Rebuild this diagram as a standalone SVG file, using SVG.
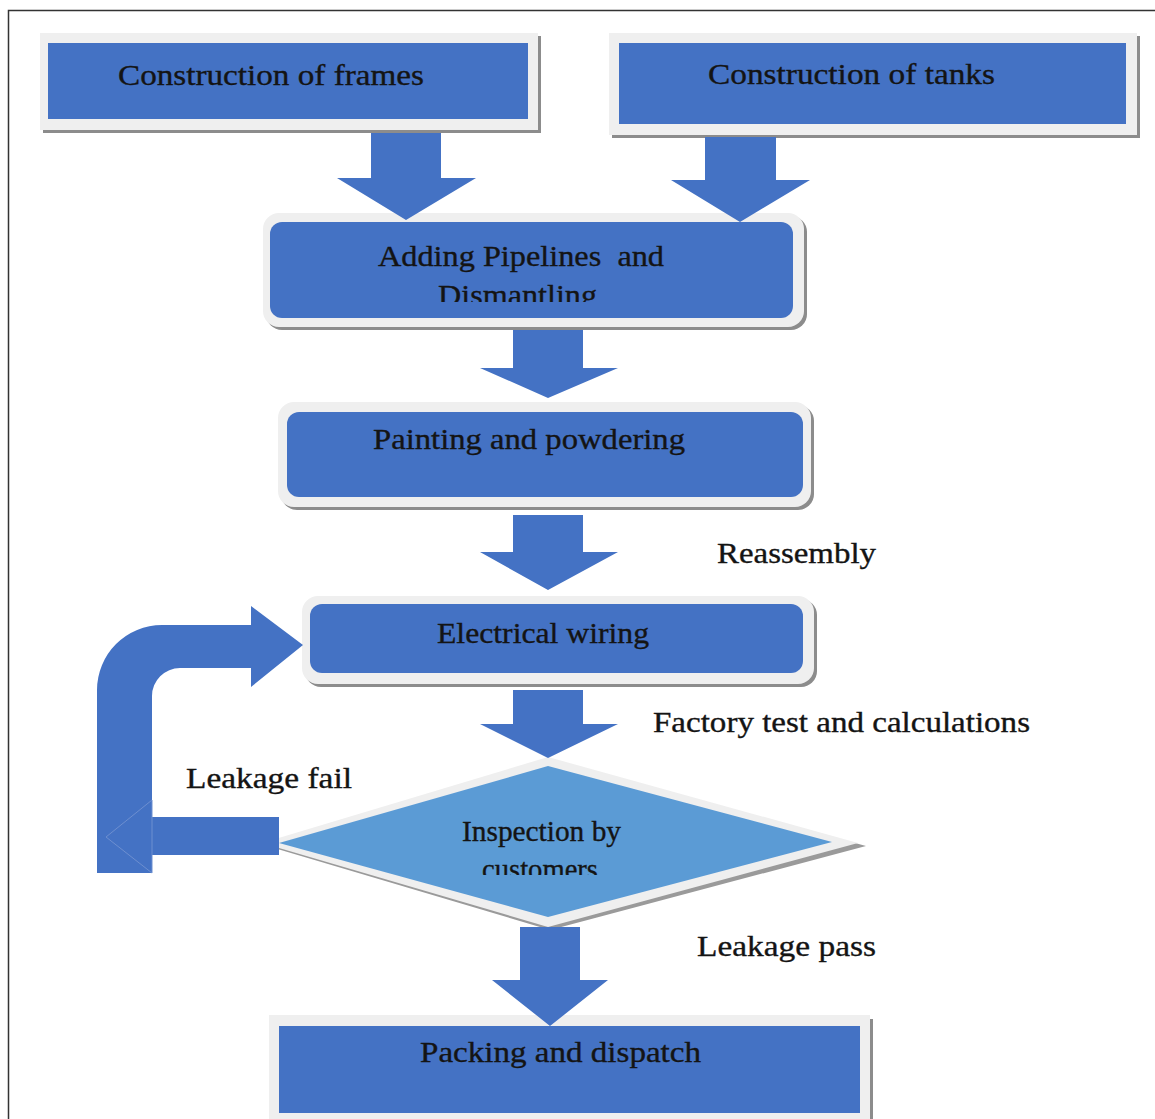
<svg xmlns="http://www.w3.org/2000/svg" width="1155" height="1119" viewBox="0 0 1155 1119">
<style>
  .frame{fill:#efefef}
  .shadow{fill:#8c8c8c}
  .blue{fill:#4472c4}
  .arrow{fill:#4472c4}
  .t{font-family:"Liberation Serif","Times New Roman",serif;font-size:29px;fill:#141414;stroke:#141414;stroke-width:0.35}
</style>
<defs>
  <clipPath id="clipDis"><rect x="400" y="270" width="250" height="32"/></clipPath>
  <clipPath id="clipCust"><rect x="450" y="850" width="200" height="25"/></clipPath>
</defs>
<rect x="8.5" y="10.5" width="1160" height="1120" fill="#ffffff" stroke="#333333" stroke-width="1.5"/>

<g id="node-frames">
  <rect class="shadow" x="43" y="36" width="498" height="97"/>
  <rect class="frame" x="40" y="33" width="498" height="97"/>
  <rect class="blue" x="48" y="43" width="480" height="76"/>
  <text class="t" x="118" y="85" textLength="306" lengthAdjust="spacingAndGlyphs">Construction of frames</text>
</g>

<g id="node-tanks">
  <rect class="shadow" x="612" y="36" width="528" height="102"/>
  <rect class="frame" x="609" y="33" width="528" height="102"/>
  <rect class="blue" x="619" y="43" width="507" height="81"/>
  <text class="t" x="708" y="84" textLength="287" lengthAdjust="spacingAndGlyphs">Construction of tanks</text>
</g>

<g id="node-pipelines">
  <rect class="shadow" x="266" y="216" width="541" height="114" rx="16"/>
  <rect class="frame" x="263" y="213" width="541" height="114" rx="16"/>
  <rect class="blue" x="270" y="222" width="523" height="96" rx="12"/>
  <text class="t" x="378" y="266" textLength="286" lengthAdjust="spacingAndGlyphs" xml:space="preserve">Adding Pipelines  and</text>
  <text class="t" x="438" y="305" textLength="159" lengthAdjust="spacingAndGlyphs" clip-path="url(#clipDis)">Dismantling</text>
</g>

<g id="node-painting">
  <rect class="shadow" x="281" y="405" width="533" height="105" rx="16"/>
  <rect class="frame" x="278" y="402" width="533" height="105" rx="16"/>
  <rect class="blue" x="287" y="412" width="516" height="85" rx="12"/>
  <text class="t" x="373" y="449" textLength="312" lengthAdjust="spacingAndGlyphs">Painting and powdering</text>
</g>

<g id="label-reassembly">
  <text class="t" x="717" y="563" textLength="159" lengthAdjust="spacingAndGlyphs">Reassembly</text>
</g>

<g id="node-wiring">
  <rect class="shadow" x="305" y="599" width="512" height="88" rx="16"/>
  <rect class="frame" x="302" y="596" width="512" height="88" rx="16"/>
  <rect class="blue" x="310" y="604" width="493" height="69" rx="12"/>
  <text class="t" x="437" y="643" textLength="212" lengthAdjust="spacingAndGlyphs">Electrical wiring</text>
</g>

<g id="label-factory">
  <text class="t" x="653" y="732" textLength="377" lengthAdjust="spacingAndGlyphs">Factory test and calculations</text>
</g>

<g id="node-inspection">
  <polygon fill="#9a9a9a" points="264,845 550,759 866,846 550,930"/>
  <polygon class="frame" points="262,843 548,757 858,843 548,927"/>
  <polygon fill="#5b9bd5" points="279,843 548,766 832,842 548,917"/>
  <text class="t" x="462" y="841" textLength="159" lengthAdjust="spacingAndGlyphs">Inspection by</text>
  <text class="t" x="482" y="879" textLength="116" lengthAdjust="spacingAndGlyphs" clip-path="url(#clipCust)">customers</text>
</g>

<g id="label-leakage-fail">
  <text class="t" x="186" y="788" textLength="166" lengthAdjust="spacingAndGlyphs">Leakage fail</text>
</g>

<g id="label-leakage-pass">
  <text class="t" x="697" y="956" textLength="179" lengthAdjust="spacingAndGlyphs">Leakage pass</text>
</g>

<g id="node-packing">
  <rect class="shadow" x="272" y="1019" width="601" height="110"/>
  <rect class="frame" x="269" y="1015" width="601" height="110"/>
  <rect class="blue" x="279" y="1026" width="581" height="87"/>
  <text class="t" x="420" y="1062" textLength="281" lengthAdjust="spacingAndGlyphs">Packing and dispatch</text>
</g>

<g id="connectors">
  <polygon class="arrow" points="371,133 441,133 441,178 476,178 406,220 337,178 371,178"/>
  <polygon class="arrow" points="705,137 776,137 776,180 810,180 740,222 671,180 705,180"/>
  <polygon class="arrow" points="513,330 583,330 583,368 618,368 548,398 480,368 513,368"/>
  <polygon class="arrow" points="513,515 583,515 583,552 618,552 548,590 480,552 513,552"/>
  <polygon class="arrow" points="513,690 583,690 583,724 618,724 548,758 480,724 513,724"/>
  <polygon class="arrow" points="520,927 580,927 580,980 608,980 550,1026 492,980 520,980"/>
  <path class="arrow" d="M97,873 L97,690 A65,65 0 0 1 162,625 L251,625 L251,606 L303,645 L251,687 L251,668 L180,668 A28,28 0 0 0 152,696 L152,873 Z"/>
  <rect class="arrow" x="152" y="817" width="127" height="38"/>
  <polygon points="152,800 106,837 152,873" fill="#4472c4" stroke="#6d8fd0" stroke-width="1"/>
</g>
</svg>
